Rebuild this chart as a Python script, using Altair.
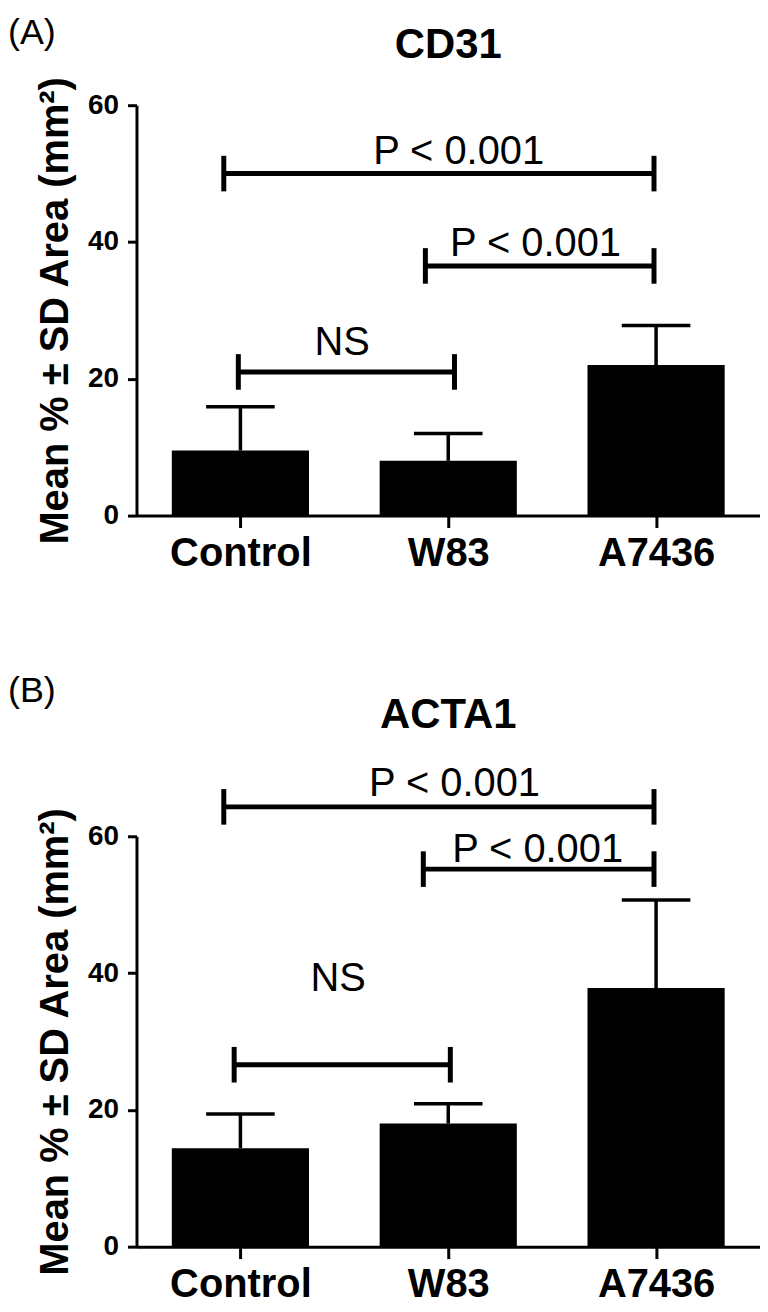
import altair as alt
import pandas as pd

categories = ["Control", "W83", "A7436"]

cd31_mean = [9.5, 8.0, 22.0]
cd31_sd = [6.4, 4.0, 5.8]
acta1_mean = [14.4, 18.0, 37.8]
acta1_sd = [5.0, 2.9, 12.9]

cd31_bracket_from = [0.42, 1.39, 0.49]
cd31_bracket_to = [2.49, 2.49, 1.53]
cd31_bracket_y = [50.0, 36.5, 21.0]
cd31_labels = ["P < 0.001", "P < 0.001", "NS"]
cd31_label_x = [1.55, 1.92, 0.99]
cd31_label_y = [51.4, 37.9, 23.5]

acta1_bracket_from = [0.42, 1.38, 0.47]
acta1_bracket_to = [2.49, 2.49, 1.51]
acta1_bracket_y = [64.3, 55.2, 26.6]
acta1_labels = ["P < 0.001", "P < 0.001", "NS"]
acta1_label_x = [1.53, 1.93, 0.97]
acta1_label_y = [65.9, 56.3, 37.4]

y_ticks = [0, 20, 40, 60]
y_title = "Mean % ± SD Area (mm²)"

FONT = "Liberation Sans"
W, H = 626, 412


def panel(tag, title, means, sds, bfrom, bto, by, labels, lx, ly, tag_y, title_y):
    pos = [i + 0.5 for i in range(len(categories))]
    df = pd.DataFrame({"cat": categories, "pos": pos, "mean": means, "sd": sds})
    br = pd.DataFrame({"x1": bfrom, "x2": bto, "y": by})
    tx = pd.DataFrame({"label": labels, "x": lx, "y": ly})

    xs = alt.Scale(domain=[0, len(categories)], nice=False, zero=False)
    ys = alt.Scale(domain=[0, 60], nice=False, zero=True)
    label_expr = "[" + ",".join("'" + c + "'" for c in categories) + "][floor(datum.value)]"
    xaxis = alt.Axis(values=pos, labelExpr=label_expr, title=None, grid=False,
                     labelFont=FONT, labelFontSize=40, labelFontWeight="bold",
                     labelColor="black", domainColor="black", domainWidth=3,
                     tickColor="black", tickWidth=3, tickSize=12, labelPadding=6,
                     labelFlush=False)
    yaxis = alt.Axis(values=y_ticks, title=y_title, grid=False,
                     labelFont=FONT, labelFontSize=28, labelFontWeight="bold",
                     labelColor="black", domainColor="black", domainWidth=3,
                     tickColor="black", tickWidth=3, tickSize=9, labelPadding=9,
                     titleFont=FONT, titleFontSize=40, titleFontWeight="bold",
                     titleColor="black", titlePadding=12)

    base = alt.Chart(df).transform_calculate(
        lo="datum.pos - 0.33", hi="datum.pos + 0.33",
        top="datum.mean + datum.sd",
        clo="datum.pos - 0.165", chi="datum.pos + 0.165")
    bars = base.mark_bar(color="black").encode(
        x=alt.X("lo:Q", scale=xs, axis=xaxis), x2="hi:Q",
        y=alt.Y("mean:Q", scale=ys, axis=yaxis), y2=alt.datum(0))
    err = base.mark_rule(color="black", strokeWidth=3.5).encode(
        x=alt.X("pos:Q", scale=xs), y=alt.Y("mean:Q", scale=ys), y2="top:Q")
    cap = base.mark_rule(color="black", strokeWidth=3.5).encode(
        x=alt.X("clo:Q", scale=xs), x2="chi:Q", y=alt.Y("top:Q", scale=ys))

    bb = alt.Chart(br).transform_calculate(lo="datum.y - 2.6", hi="datum.y + 2.6")
    hline = bb.mark_rule(color="black", strokeWidth=5).encode(
        x=alt.X("x1:Q", scale=xs), x2="x2:Q", y=alt.Y("y:Q", scale=ys))
    lt = bb.mark_rule(color="black", strokeWidth=5).encode(
        x=alt.X("x1:Q", scale=xs), y=alt.Y("lo:Q", scale=ys), y2="hi:Q")
    rt = bb.mark_rule(color="black", strokeWidth=5).encode(
        x=alt.X("x2:Q", scale=xs), y=alt.Y("lo:Q", scale=ys), y2="hi:Q")

    txt = alt.Chart(tx).mark_text(font=FONT, fontSize=40, color="black",
                                  baseline="alphabetic", align="center").encode(
        x=alt.X("x:Q", scale=xs), y=alt.Y("y:Q", scale=ys), text="label:N")

    tagm = alt.Chart(pd.DataFrame({"t": [tag]})).mark_text(
        font=FONT, fontSize=36, color="black", align="left", baseline="middle").encode(
        text="t:N", x=alt.value(-129), y=alt.value(tag_y))
    titm = alt.Chart(pd.DataFrame({"t": [title]})).mark_text(
        font=FONT, fontSize=42, fontWeight="bold", color="black",
        align="center", baseline="middle").encode(
        text="t:N", x=alt.value(W / 2), y=alt.value(title_y))

    return alt.layer(bars, err, cap, hline, lt, rt, txt, tagm, titm).properties(
        width=W, height=H)


pa = panel("(A)", "CD31", cd31_mean, cd31_sd, cd31_bracket_from, cd31_bracket_to,
           cd31_bracket_y, cd31_labels, cd31_label_x, cd31_label_y, -72, -60)
pb = panel("(B)", "ACTA1", acta1_mean, acta1_sd, acta1_bracket_from, acta1_bracket_to,
           acta1_bracket_y, acta1_labels, acta1_label_x, acta1_label_y, -146, -122)

chart = alt.vconcat(pa, pb, spacing=100).properties(
    padding={"top": 5, "left": 0, "right": 0, "bottom": 0}
).configure_view(stroke=None).configure_axis(grid=False)

chart.save("out.html", embed_options={"renderer": "svg", "actions": False})
